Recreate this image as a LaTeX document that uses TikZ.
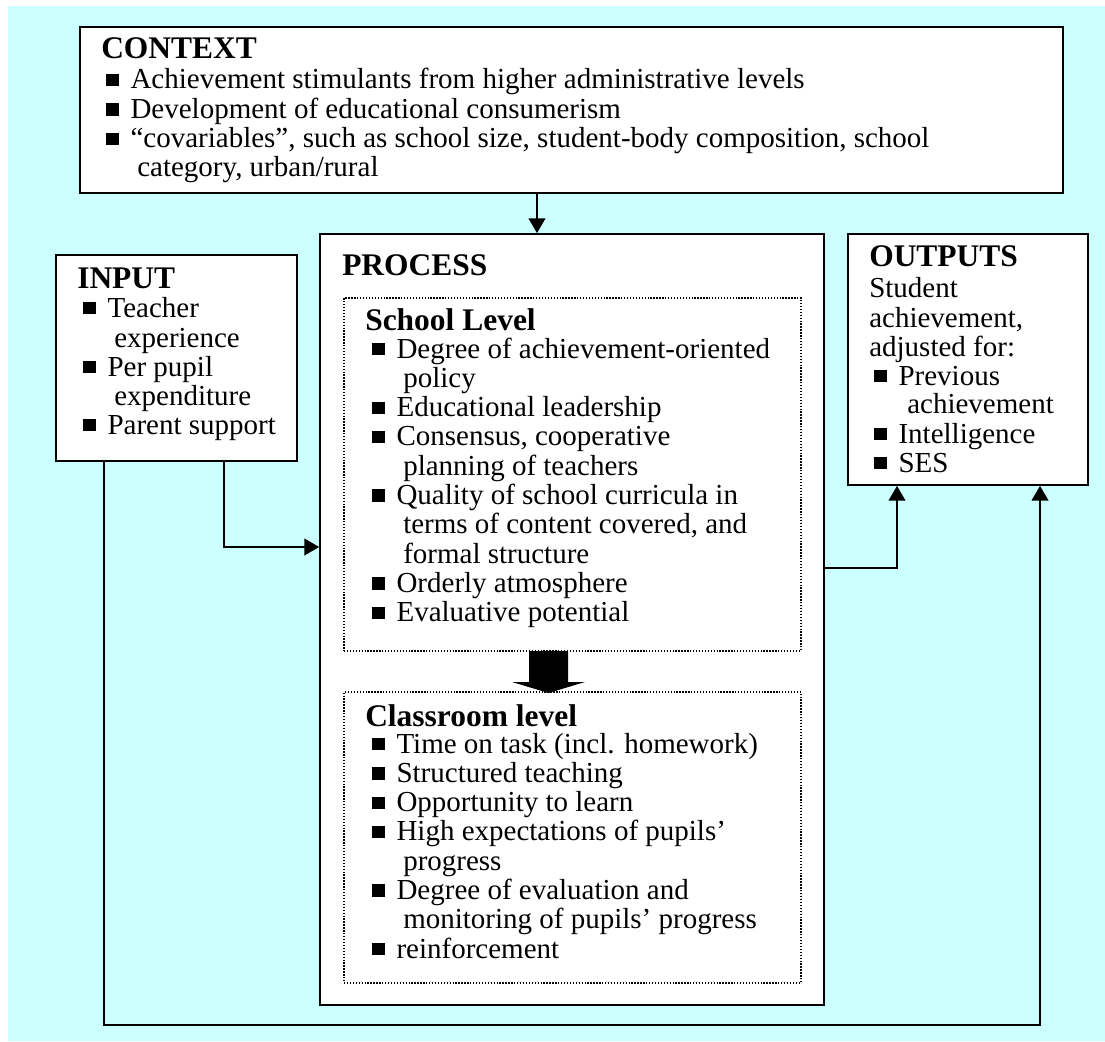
\documentclass[tikz,border=0pt]{standalone}
\usepackage{fontspec}
\setmainfont{Liberation Serif}
\usetikzlibrary{arrows.meta,shadows,fit}
\definecolor{bgcyan}{RGB}{204,255,255}
\newcommand\bul{\raisebox{2.1pt}{\rule{9.6pt}{9.2pt}}\hspace{8.6pt}}
\tikzset{
  box/.style={draw=black, line width=1.3pt, fill=white, inner sep=0pt,
    drop shadow={shadow xshift=1pt, shadow yshift=-1pt, fill=black!55, opacity=1}},
  dotbox/.style={draw=black, line width=1pt, dash pattern=on 1pt off 1.2pt, inner sep=0pt},
  conn/.style={draw=black, line width=1.1pt, -{Triangle[length=11pt,width=12.5pt]}},
  txt/.style={anchor=base west, inner sep=0pt, font=\fontsize{21.75}{21.75}\selectfont},
  ttl/.style={anchor=base west, inner sep=0pt, font=\fontsize{23.6}{23.6}\selectfont\bfseries}
}
\begin{document}
\begin{tikzpicture}[x=0.75pt,y=-0.75pt]
\useasboundingbox (0,0) rectangle (1105,1041);
\fill[white] (0,0) rectangle (1105,1041);
\fill[bgcyan] (8,6) rectangle (1105,1041);

% boxes
\node[box, fit={(80,27) (1063,193)}] (ctx) {};
\node[box, fit={(56,255) (297,461)}] (inp) {};
\node[box, fit={(320,234) (824,1005)}] (proc) {};
\node[box, fit={(848,234) (1088,485)}] (out) {};
\node[dotbox, fit={(344,298) (801,651)}] (sch) {};
\node[dotbox, fit={(344,692) (801,983)}] (cls) {};

% CONTEXT text
\node[ttl] (ctxt) at (101,59) {CONTEXT};
\node[txt] (c1) at (106,89) {\bul Achievement stimulants from higher administrative levels};
\node[txt] (c2) at (106,118.5) {\bul Development of educational consumerism};
\node[txt] (c3) at (106,148) {\bul “covariables”, such as school size, student-body composition, school};
\node[txt] (c4) at (137,177) {category, urban/rural};

% INPUT text
\node[ttl] (inpt) at (77,288) {INPUT};
\node[txt] (i1) at (83,317) {\bul Teacher};
\node[txt] (i2) at (114,347) {experience};
\node[txt] (i3) at (83,376) {\bul Per pupil};
\node[txt] (i4) at (114,405) {expenditure};
\node[txt] (i5) at (83,434) {\bul Parent support};

% PROCESS text
\node[ttl] (proct) at (342,275) {PROCESS};
\node[ttl] (scht) at (365,330) {School Level};
\node[txt] (s1) at (372,358) {\bul Degree of achievement-oriented};
\node[txt] (s2) at (403,387.3) {policy};
\node[txt] (s3) at (372,416.6) {\bul Educational leadership};
\node[txt] (s4) at (372,445.9) {\bul Consensus, cooperative};
\node[txt] (s5) at (403,475.2) {planning of teachers};
\node[txt] (s6) at (372,504.5) {\bul Quality of school curricula in};
\node[txt] (s7) at (403,533.8) {terms of content covered, and};
\node[txt] (s8) at (403,563.1) {formal structure};
\node[txt] (s9) at (372,592.4) {\bul Orderly atmosphere};
\node[txt] (s10) at (372,621.7) {\bul Evaluative potential};

\node[ttl] (clst) at (365,726) {Classroom level};
\node[txt] (k1) at (372,753) {\bul Time on task (incl. homework)};
\node[txt] (k2) at (372,782.3) {\bul Structured teaching};
\node[txt] (k3) at (372,811.6) {\bul Opportunity to learn};
\node[txt] (k4) at (372,840.9) {\bul High expectations of pupils’};
\node[txt] (k5) at (403,870.2) {progress};
\node[txt] (k6) at (372,899.5) {\bul Degree of evaluation and};
\node[txt] (k7) at (403,928.8) {monitoring of pupils’ progress};
\node[txt] (k8) at (372,958.1) {\bul reinforcement};

% OUTPUTS text
\node[ttl] (outt) at (869,266) {OUTPUTS};
\node[txt] (o1) at (869,297) {Student};
\node[txt] (o2) at (869,327) {achievement,};
\node[txt] (o3) at (869,356) {adjusted for:};
\node[txt] (o4) at (874,385) {\bul Previous};
\node[txt] (o5) at (907,413) {achievement};
\node[txt] (o6) at (874,443) {\bul Intelligence};
\node[txt] (o7) at (874,472) {\bul SES};

% big arrow between levels
\fill[black] (529,651) -- (568,651) -- (568,682) -- (585,682) -- (548.5,693) -- (512,682) -- (529,682) -- cycle;

% connectors
\coordinate (ca) at (537,0);
\draw[conn] (ctx.south -| ca) -- (proc.north -| ca);
\coordinate (ia) at (224,547);
\draw[conn] (inp.south -| ia) |- (proc.west |- ia);
\coordinate (oa) at (897,568);
\draw[conn] (proc.east |- oa) -| (out.south -| oa);
\coordinate (la) at (104,1025);
\coordinate (lb) at (1040,1025);
\draw[conn] (inp.south -| la) -- (la) -- (lb) -- (out.south -| lb);
\end{tikzpicture}
\end{document}
